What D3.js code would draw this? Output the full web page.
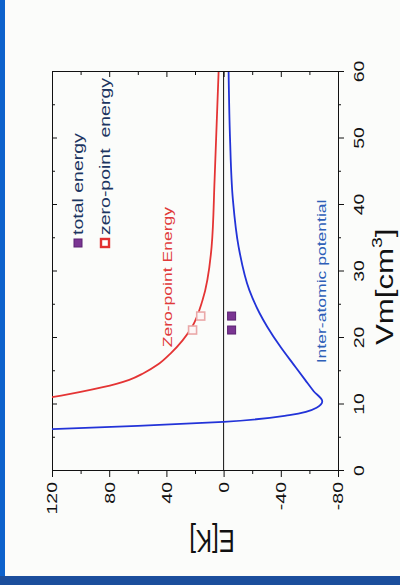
<!DOCTYPE html>
<html>
<head>
<meta charset="utf-8">
<script src="https://cdn.jsdelivr.net/npm/d3@7"></script>
<style>
  html, body { margin: 0; padding: 0; background: #fbfcfa; }
  svg { display: block; font-family: "Liberation Sans", Arial, sans-serif; }
</style>
</head>
<body>
<script>
// energy vs molar volume, drawn normally then turned 90deg to match the scan

// ----- data -----
const vmTicks = [0, 10, 20, 30, 40, 50, 60];
const vmMinor = [5, 15, 25, 35, 45, 55];
const eTicks = [120, 80, 40, 0, -40, -80];
const eMinor = [100, 60, 20, -20, -60];

// inter-atomic potential (blue)
const vmPot = [6.3, 6.8, 7.4, 8.4, 9.5, 10.5, 12.0, 13.7, 16.0, 18.6, 21.7, 23.8, 27.2, 33.7, 40.8, 50, 60];
const ePot = [120, 60, 0, -46, -65, -69, -63, -57, -49, -40, -30.5, -25, -18, -10.5, -6.5, -4.5, -3.5];

// zero-point energy (red)
const vmZpe = [11.1, 11.9, 13.1, 13.7, 14.7, 16.0, 17.7, 21.7, 25.7, 33.7, 43.8, 60];
const eZpe = [120, 100, 75, 66, 56, 46, 37, 22, 14.7, 8.4, 6.3, 3.5];

// measured points
const vmPoints = [23.3, 21.2];
const eTotal = [-5.6, -5.6];
const eZero = [16, 21.7];

const legendLabels = ["total energy", "zero-point  energy"];

// ----- layout -----
const W = 399;   // length of Vm axis (becomes vertical)
const H = 286;   // length of E axis (becomes horizontal)
const stretch = 1.3; // scan is stretched vertically, text follows

const svg = d3.select("body").append("svg")
  .attr("width", 400)
  .attr("height", 585);

svg.append("rect").attr("width", 400).attr("height", 585).attr("fill", "#fbfcfa");
svg.append("rect").attr("x", 0).attr("y", 0).attr("width", 5).attr("height", 585).attr("fill", "#0d62cc");
svg.append("rect").attr("x", 0).attr("y", 576).attr("width", 400).attr("height", 9).attr("fill", "#1b4e9c");

const x = d3.scaleLinear().domain([0, 60]).range([0, W]);
const y = d3.scaleLinear().domain([-80, 120]).range([H, 0]);

// rotated chart group
const g = svg.append("g")
  .attr("transform", "translate(52,471) rotate(-90)");

g.append("clipPath").attr("id", "plot-clip")
  .append("rect").attr("width", W).attr("height", H);

// ----- axes -----
function styleAxis(sel) {
  sel.selectAll("path.domain").attr("stroke", "#111").attr("stroke-width", 1);
  sel.selectAll("line").attr("stroke", "#111").attr("stroke-width", 1);
}

// Vm axis (original bottom)
const xAxisG = g.append("g").attr("transform", "translate(0," + H + ")")
  .call(d3.axisBottom(x).tickValues(vmTicks).tickSize(6).tickSizeOuter(0));
xAxisG.selectAll("text")
  .attr("y", 15)
  .attr("dy", "0.71em")
  .attr("transform", "scale(" + stretch + ",1)")
  .style("font-size", "15px")
  .style("fill", "#111")
  .style("font-family", "Liberation Sans, Arial, sans-serif");
styleAxis(xAxisG);

const xMinorG = g.append("g").attr("transform", "translate(0," + H + ")")
  .call(d3.axisBottom(x).tickValues(vmMinor).tickSize(3).tickFormat(""));
xMinorG.select("path.domain").remove();
styleAxis(xMinorG);

// E axis (original left)
const yAxisG = g.append("g")
  .call(d3.axisLeft(y).tickValues(eTicks).tickSize(6).tickSizeOuter(0).tickFormat(d => String(d)));
yAxisG.selectAll("text")
  .attr("x", -11 / stretch)
  .attr("transform", "scale(" + stretch + ",1)")
  .style("font-size", "15px")
  .style("fill", "#111")
  .style("font-family", "Liberation Sans, Arial, sans-serif");
styleAxis(yAxisG);

const yMinorG = g.append("g")
  .call(d3.axisLeft(y).tickValues(eMinor).tickSize(3).tickFormat(""));
yMinorG.select("path.domain").remove();
styleAxis(yMinorG);

// mirrored frame with inward ticks
const topG = g.append("g")
  .call(d3.axisTop(x).tickValues(vmTicks).tickSize(-5).tickSizeOuter(0).tickFormat(""));
styleAxis(topG);
const topMinorG = g.append("g")
  .call(d3.axisTop(x).tickValues(vmMinor).tickSize(-3).tickFormat(""));
topMinorG.select("path.domain").remove();
styleAxis(topMinorG);

const rightG = g.append("g").attr("transform", "translate(" + W + ",0)")
  .call(d3.axisRight(y).tickValues(eTicks).tickSize(-5).tickSizeOuter(0).tickFormat(""));
styleAxis(rightG);
const rightMinorG = g.append("g").attr("transform", "translate(" + W + ",0)")
  .call(d3.axisRight(y).tickValues(eMinor).tickSize(-3).tickFormat(""));
rightMinorG.select("path.domain").remove();
styleAxis(rightMinorG);

// ----- plot contents -----
const plot = g.append("g").attr("clip-path", "url(#plot-clip)");

// zero line
plot.append("line")
  .attr("x1", x(0)).attr("x2", x(60))
  .attr("y1", y(0)).attr("y2", y(0))
  .attr("stroke", "#111")
  .attr("stroke-width", 1);

const line = d3.line()
  .x(d => x(d[0]))
  .y(d => y(d[1]))
  .curve(d3.curveMonotoneX);

plot.append("path")
  .datum(vmPot.map((v, i) => [v, ePot[i]]))
  .attr("d", line)
  .attr("fill", "none")
  .attr("stroke", "#2233d8")
  .attr("stroke-width", 1.8);

plot.append("path")
  .datum(vmZpe.map((v, i) => [v, eZpe[i]]))
  .attr("d", line)
  .attr("fill", "none")
  .attr("stroke", "#e43434")
  .attr("stroke-width", 1.8);

// zero-point energy points (open pink squares)
plot.selectAll(".zp-pt")
  .data(vmPoints.map((v, i) => [v, eZero[i]]))
  .enter().append("rect")
  .attr("class", "zp-pt")
  .attr("x", d => x(d[0]) - 4)
  .attr("y", d => y(d[1]) - 4)
  .attr("width", 8).attr("height", 8)
  .attr("fill", "#fdf6f6")
  .attr("stroke", "#eaa8a8")
  .attr("stroke-width", 1.6);

// total energy points (purple squares)
plot.selectAll(".tot-pt")
  .data(vmPoints.map((v, i) => [v, eTotal[i]]))
  .enter().append("rect")
  .attr("class", "tot-pt")
  .attr("x", d => x(d[0]) - 4)
  .attr("y", d => y(d[1]) - 4)
  .attr("width", 8).attr("height", 8)
  .attr("fill", "#7a3592")
  .attr("stroke", "#5b2272")
  .attr("stroke-width", 1);

// ----- curve labels -----
function addText(parent, px, py, txt, size, color) {
  return parent.append("text")
    .attr("transform", "translate(" + px + "," + py + ") scale(" + stretch + ",1)")
    .style("font-size", size + "px")
    .style("fill", color)
    .text(txt);
}

addText(g, x(18.6), y(36), "Zero-point Energy", 13.5, "#e03a3a");
addText(g, x(16.2), y(-71.6), "Inter-atomic potential", 13.5, "#2e5fb8");

// ----- legend -----
const legend = g.append("g").attr("transform", "translate(228,0)");
legend.append("rect")
  .attr("x", -4).attr("y", 22).attr("width", 8).attr("height", 8)
  .attr("fill", "#7a3592").attr("stroke", "#5b2272");
legend.append("rect")
  .attr("x", -4).attr("y", 49).attr("width", 8).attr("height", 8)
  .attr("fill", "#ffffff").attr("stroke", "#e23030").attr("stroke-width", 2.4);
addText(legend, 8, 31, legendLabels[0], 15, "#1c3561");
addText(legend, 8, 58, legendLabels[1], 15, "#1c3561").style("white-space", "pre");

// ----- axis titles -----
const xTitle = g.append("text")
  .attr("transform", "translate(" + (x(27.7)) + ",341) scale(" + stretch + ",1)")
  .attr("text-anchor", "middle")
  .style("font-size", "24px")
  .style("fill", "#111");
xTitle.append("tspan").text("Vm[cm");
xTitle.append("tspan").attr("dy", -11).style("font-size", "15px").text("3");
xTitle.append("tspan").attr("dy", 11).text("]");

svg.append("text")
  .attr("transform", "translate(212,530) rotate(180) scale(1," + stretch + ")")
  .attr("text-anchor", "middle")
  .style("font-size", "24px")
  .style("fill", "#111")
  .text("E[K]");
</script>
</body>
</html>
